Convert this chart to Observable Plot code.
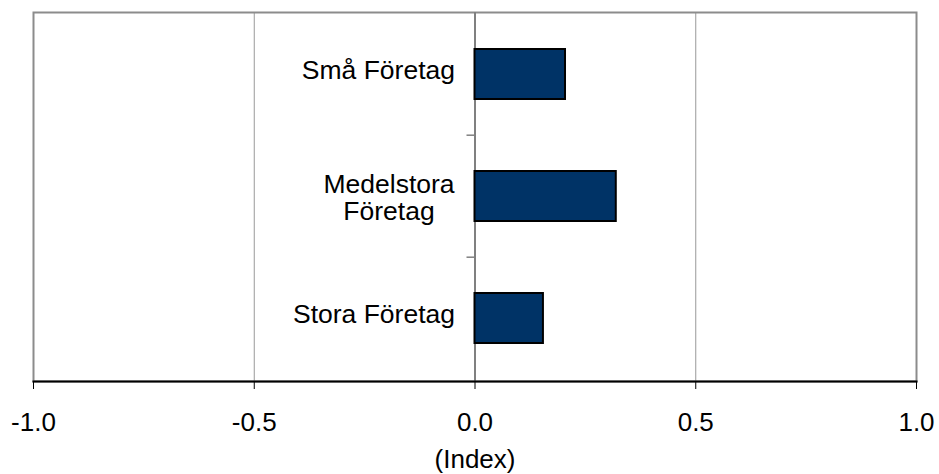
<!DOCTYPE html>
<html>
<head>
<meta charset="utf-8">
<script src="https://cdn.jsdelivr.net/npm/d3@7"></script>
<script src="https://cdn.jsdelivr.net/npm/@observablehq/plot@0.6"></script>
<style>
  html, body { margin: 0; padding: 0; background: #fff; }
  #chart { width: 939px; height: 474px; }
</style>
</head>
<body>
<div id="chart"></div>
<script>
const categories = ["Små Företag", "Medelstora\nFöretag", "Stora Företag"];
const values = [0.205, 0.32, 0.155];
const xTicks = [-1.0, -0.5, 0.0, 0.5, 1.0];
const gridTicks = [-0.5, 0.5];
const axisLabel = "(Index)";

const data = categories.map((c, i) => ({category: c, value: values[i]}));
const singleLine = data.filter(d => !d.category.includes("\n"));
const multiLine = data.filter(d => d.category.includes("\n"));
const boundaries = categories.slice(1);

const font = "'Liberation Sans', Arial, sans-serif";

const chart = Plot.plot({
  width: 939,
  height: 474,
  marginLeft: 33,
  marginRight: 23,
  marginTop: 12,
  marginBottom: 93,
  style: {fontFamily: font, fontSize: "26px", background: "#fff", color: "#000"},
  x: {domain: [-1, 1]},
  y: {domain: categories, paddingInner: 0.59, paddingOuter: 0.3, axis: null},
  marks: [
    Plot.gridX(gridTicks, {stroke: "#999", strokeOpacity: 1, strokeWidth: 1}),
    Plot.frame({stroke: "#8c8c8c", strokeWidth: 2}),
    Plot.ruleX([0], {stroke: "#808080", strokeWidth: 2}),
    Plot.ruleY(boundaries, {y: d => d, x1: 0, x2: 0, insetLeft: -8, dy: -61.3, stroke: "#808080", strokeWidth: 1.5}),
    Plot.barX(data, {x: "value", y: "category", fill: "#003366", stroke: "#000", strokeWidth: 2}),
    Plot.text(singleLine, {x: 0, y: "category", text: "category", textAnchor: "end", dx: -20, dy: -4, fontSize: 26.5, fill: "#000"}),
    Plot.text(multiLine, {x: 0, y: "category", text: "category", textAnchor: "middle", dx: -86, dy: 1, lineHeight: 1.05, fontSize: 26.5, fill: "#000"}),
    Plot.axisX({
      ticks: xTicks,
      tickFormat: d => d.toFixed(1),
      tickSize: 8,
      tickPadding: 23,
      fontSize: 26,
      stroke: "#000",
      label: axisLabel,
      labelAnchor: "center",
      labelArrow: "none",
      labelOffset: 86
    }),
    Plot.frame({anchor: "bottom", stroke: "#000", strokeWidth: 2})
  ]
});
document.getElementById("chart").appendChild(chart);
</script>
</body>
</html>
